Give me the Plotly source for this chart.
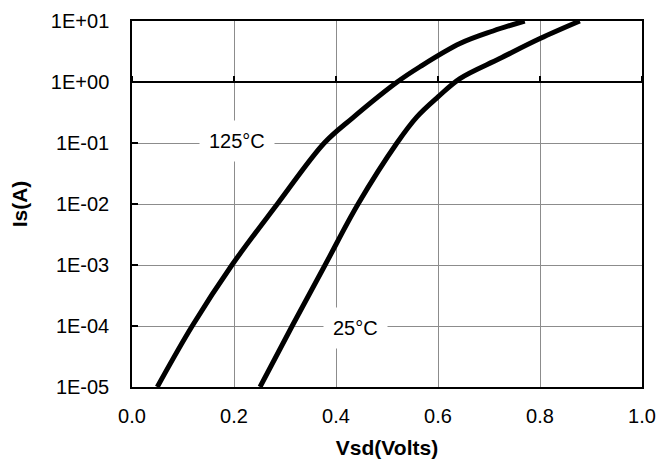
import math
import plotly.graph_objects as go

# Data (Vsd in volts, Is in amperes)
v_125 = [0.0495, 0.118, 0.196, 0.285, 0.377, 0.431, 0.520, 0.5646, 0.643, 0.708, 0.770]
i_125 = [1e-5, 1e-4, 1e-3, 1e-2, 1e-1, 10**-0.599, 1.0, 10**0.25, 10**0.630, 10**0.836, 10.0]

v_25 = [0.251, 0.314, 0.3786, 0.4433, 0.5195, 0.5587, 0.600, 0.643, 0.721, 0.800, 0.878]
i_25 = [1e-5, 1e-4, 1e-3, 1e-2, 1e-1, 10**-0.572, 10**-0.245, 10**0.056, 10**0.384, 10**0.712, 10.0]

x_ticks = [0.0, 0.2, 0.4, 0.6, 0.8, 1.0]
x_tick_labels = ["0.0", "0.2", "0.4", "0.6", "0.8", "1.0"]
y_ticks = [1e-5, 1e-4, 1e-3, 1e-2, 1e-1, 1e0, 1e1]
y_tick_labels = ["1E-05", "1E-04", "1E-03", "1E-02", "1E-01", "1E+00", "1E+01"]

labels = ["125°C", "25°C"]
label_x = [0.206, 0.439]
label_y = [10**-0.96, 10**-4.04]

FONT = "Liberation Sans, Arial, sans-serif"

fig = go.Figure()
for vx, iy in ((v_125, i_125), (v_25, i_25)):
    fig.add_trace(go.Scatter(x=vx, y=iy, mode="lines",
                             line=dict(color="black", width=5, shape="spline", smoothing=1.0),
                             showlegend=False, hoverinfo="skip"))
# empty trace to carry the crossing axis at y = 1
fig.add_trace(go.Scatter(x=[None], y=[None], xaxis="x2", showlegend=False, hoverinfo="skip"))

for t, x, y in zip(labels, label_x, label_y):
    fig.add_annotation(x=x, y=math.log10(y), yref="y", xref="x", text=t, showarrow=False,
                       font=dict(family=FONT, size=20, color="black"),
                       bgcolor="white", borderpad=9)

fig.update_layout(
    width=663, height=461,
    margin=dict(l=124, r=29, t=13, b=82),
    paper_bgcolor="white", plot_bgcolor="white",
    font=dict(family=FONT, size=20, color="black"),
    xaxis=dict(range=[0, 1], tickvals=x_ticks, ticktext=x_tick_labels,
               showgrid=True, gridcolor="#8c8c8c", gridwidth=1,
               showline=True, linecolor="black", linewidth=1.5, mirror=True,
               ticks="", zeroline=False, ticklabelstandoff=10, automargin=False,
               title=dict(text="<b>Vsd(Volts)</b>", font=dict(size=21, family=FONT), standoff=15)),
    xaxis2=dict(range=[0, 1], overlaying="x", anchor="free", position=5/6, side="top",
                tickvals=x_ticks, showticklabels=False, ticks="outside", ticklen=5,
                tickcolor="black", tickwidth=1.5, showgrid=False, automargin=False,
                showline=True, linecolor="black", linewidth=1.5, zeroline=False),
    yaxis=dict(type="log", range=[-5, 1], tickvals=y_ticks, ticktext=y_tick_labels,
               showgrid=True, gridcolor="#8c8c8c", gridwidth=1,
               showline=True, linecolor="black", linewidth=1.5, mirror=True,
               ticks="inside", ticklen=6, tickcolor="black", tickwidth=1.5,
               ticklabelstandoff=17, zeroline=False, automargin=False,
               title=dict(text="<b>Is(A)</b>", font=dict(size=21, family=FONT), standoff=20)),
)

fig.write_html("out.html")
